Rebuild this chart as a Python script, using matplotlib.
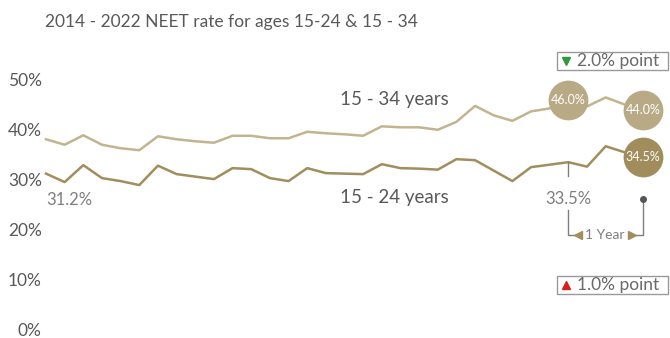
import matplotlib
matplotlib.use("Agg")
from matplotlib import pyplot as plt
from matplotlib.patches import Rectangle
from matplotlib.lines import Line2D

plt.rcParams["font.family"] = ["Lato", "DejaVu Sans"]

# quarterly NEET rate, 2014 Q1 - 2022 Q1 (%)
quarters = list(range(33))
neet_15_24 = [31.2, 29.5, 32.9, 30.3, 29.7, 28.9, 32.8, 31.1, 30.6, 30.1, 32.3,
              32.1, 30.3, 29.7, 32.3, 31.3, 31.2, 31.1, 33.1, 32.3, 32.2, 32.0,
              34.1, 33.9, 31.8, 29.7, 32.5, 33.0, 33.5, 32.6, 36.7, 35.5, 34.5]
neet_15_34 = [38.1, 37.0, 38.9, 37.0, 36.3, 35.9, 38.7, 38.1, 37.7, 37.4, 38.8,
              38.8, 38.3, 38.3, 39.6, 39.3, 39.1, 38.8, 40.7, 40.5, 40.5, 40.0,
              41.6, 44.8, 42.9, 41.8, 43.7, 44.3, 46.0, 44.7, 46.5, 45.1, 44.0]
y_ticks = [0, 10, 20, 30, 40, 50]
y_tick_labels = ["0%", "10%", "20%", "30%", "40%", "50%"]

LIGHT = "#c3b48f"
DARK = "#a28d5d"
CIRCLE_LIGHT = "#b9aa86"
CIRCLE_DARK = "#a18c5b"
TEXT = "#595959"
GREY = "#7f7f7f"

W, H = 670, 338
fig = plt.figure(figsize=(W / 100, H / 100), dpi=100)


def px(x, y):
    # pixel position (from top-left) -> figure fraction
    return x / W, 1 - y / H


ax = fig.add_axes([46 / W, (H - 329) / H, 597 / W, 249 / H])
ax.set_xlim(0, 32)
ax.set_ylim(0, 50)
for s in ax.spines.values():
    s.set_visible(False)
ax.set_xticks([])
ax.set_yticks(y_ticks)
ax.set_yticklabels(y_tick_labels, fontsize=12.5, color=TEXT)
ax.tick_params(axis="y", length=0, pad=3)

ax.plot(quarters, neet_15_34, color=LIGHT, lw=1.8, clip_on=False)
ax.plot(quarters, neet_15_24, color=DARK, lw=1.8, clip_on=False)

# highlighted circles
last, prev = 32, 28
ax.scatter([prev, last], [neet_15_34[prev], neet_15_34[last]], s=820,
           color=CIRCLE_LIGHT, zorder=3, clip_on=False, linewidths=0)
ax.scatter([last], [neet_15_24[last]], s=820, color=CIRCLE_DARK, zorder=3,
           clip_on=False, linewidths=0)
for xi, v in [(prev, neet_15_34[prev]), (last, neet_15_34[last]),
              (last, neet_15_24[last])]:
    ax.text(xi, v, f"{v:.1f}%", color="white", fontsize=9, ha="center",
            va="center", zorder=4)

# value labels
ax.text(0, 26.0, f"{neet_15_24[0]:.1f}%", color=GREY, fontsize=12,
        ha="left", va="center")
ax.text(prev, 26.2, f"{neet_15_24[prev]:.1f}%", color=GREY, fontsize=12,
        ha="center", va="center")
ax.plot([prev, prev], [neet_15_24[prev], 30.8], color=GREY, lw=1)

# series labels
fig.text(*px(340, 100), "15 - 34 years", fontsize=13.5, color=TEXT, va="center")
fig.text(*px(340, 197), "15 - 24 years", fontsize=13.5, color=TEXT, va="center")

# one year bracket
ax.plot([prev, prev, 28.3], [23.8, 18.8, 18.8], color=GREY, lw=1, clip_on=False)
ax.plot([31.65, last, last], [18.8, 18.8, 26.2], color=GREY, lw=1, clip_on=False)
ax.plot([last], [26.2], "o", color="#555555", ms=4, clip_on=False)
ax.plot([28.5], [18.8], marker="<", color=DARK, ms=5.5, clip_on=False)
ax.plot([31.4], [18.8], marker=">", color=DARK, ms=5.5, clip_on=False)
ax.text(29.95, 18.8, "1 Year", color=GREY, fontsize=10, ha="center", va="center")


# change boxes
def change_box(y_top, text, marker, color):
    x0, y0 = px(557, y_top + 18)
    fig.add_artist(Rectangle((x0, y0), 111 / W, 18 / H, transform=fig.transFigure,
                             fill=False, edgecolor="#9a9a9a", lw=1))
    mx, my = px(566, y_top + 9)
    fig.add_artist(Line2D([mx], [my], marker=marker, color=color, ms=6,
                          transform=fig.transFigure))
    tx, ty = px(577, y_top + 9)
    fig.text(tx, ty, text, fontsize=12.5, color="#6a6a6a",
             va="center", ha="left")


change_box(52, "2.0% point", "v", "#2e9b3a")
change_box(276, "1.0% point", "^", "#d62020")

fig.text(*px(45, 22), "2014 - 2022 NEET rate for ages 15-24 & 15 - 34",
         fontsize=12.5, color=TEXT, va="center", ha="left")

fig.savefig("out.png", dpi=100)
